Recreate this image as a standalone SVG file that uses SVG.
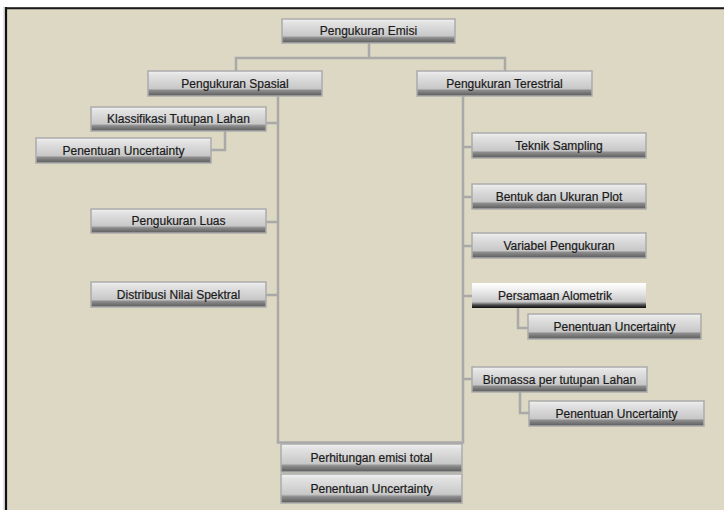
<svg xmlns="http://www.w3.org/2000/svg" width="724" height="510" viewBox="0 0 724 510">
  <defs>
    <linearGradient id="btn" x1="0" y1="0" x2="0" y2="1">
      <stop offset="0" stop-color="#f2f2f2"/>
      <stop offset="0.15" stop-color="#e3e3e3"/>
      <stop offset="0.7" stop-color="#c8c8c8"/>
      <stop offset="0.78" stop-color="#8c8c8c"/>
      <stop offset="1" stop-color="#5a5a5a"/>
    </linearGradient>
    <linearGradient id="btnHi" x1="0" y1="0" x2="0" y2="1">
      <stop offset="0" stop-color="#ffffff"/>
      <stop offset="0.2" stop-color="#f4f4f4"/>
      <stop offset="0.75" stop-color="#c9c9c9"/>
      <stop offset="0.88" stop-color="#4a4a4a"/>
      <stop offset="1" stop-color="#0c0c0c"/>
    </linearGradient>
  </defs>
  <style>
    .box { fill: url(#btn); stroke: #ababab; stroke-width: 1.5; }
    .boxHi { fill: url(#btnHi); }
    .lbl { font-family: "Liberation Sans", Arial, sans-serif; font-size: 12px; fill: #1a1a1a; stroke: #1a1a1a; stroke-width: 0.2; text-anchor: middle; }
    .wire { fill: none; stroke: #a9a9a9; stroke-width: 2.5; }
  </style>

  <!-- page and frame -->
  <rect x="0" y="0" width="724" height="510" fill="#ffffff"/>
  <rect x="5" y="7" width="719" height="503" fill="#ddd8c3"/>
  <line x1="4" y1="7" x2="4" y2="510" stroke="#c8c8c8" stroke-width="1"/>
  <line x1="6" y1="7" x2="6" y2="510" stroke="#111111" stroke-width="2.2"/>
  <line x1="5" y1="8.3" x2="724" y2="8.3" stroke="#1a1a1a" stroke-width="2"/>

  <!-- connectors -->
  <g id="connectors">
    <path class="wire" d="M369 43 V58"/>
    <path class="wire" d="M236 71 V58 H505 V71"/>
    <path class="wire" d="M278 96 V442.5 H463 V96"/>
    <path class="wire" d="M266 123 H278"/>
    <path class="wire" d="M211 150 H225 V131"/>
    <path class="wire" d="M266 222 H278"/>
    <path class="wire" d="M266 295 H278"/>
    <path class="wire" d="M463 147 H472"/>
    <path class="wire" d="M463 197 H472"/>
    <path class="wire" d="M463 246 H472"/>
    <path class="wire" d="M463 296 H472"/>
    <path class="wire" d="M463 379 H472"/>
    <path class="wire" d="M518 308 V328 H528"/>
    <path class="wire" d="M520 392 V413 H529"/>
  </g>

  <!-- nodes -->
  <g id="n-emisi">
    <rect class="box" x="282" y="19" width="173" height="24"/>
    <text class="lbl" x="368.5" y="35">Pengukuran Emisi</text>
  </g>
  <g id="n-spasial">
    <rect class="box" x="148" y="71" width="174" height="25"/>
    <text class="lbl" x="235" y="87.5">Pengukuran Spasial</text>
  </g>
  <g id="n-terestrial">
    <rect class="box" x="417" y="71" width="175" height="25"/>
    <text class="lbl" x="504.5" y="87.5">Pengukuran Terestrial</text>
  </g>
  <g id="n-klasifikasi">
    <rect class="box" x="91" y="107" width="175" height="24"/>
    <text class="lbl" x="178.5" y="123">Klassifikasi Tutupan Lahan</text>
  </g>
  <g id="n-uncert-klas">
    <rect class="box" x="36" y="138" width="175" height="25"/>
    <text class="lbl" x="123.5" y="154.5">Penentuan Uncertainty</text>
  </g>
  <g id="n-luas">
    <rect class="box" x="91" y="209" width="175" height="24"/>
    <text class="lbl" x="178.5" y="225">Pengukuran Luas</text>
  </g>
  <g id="n-spektral">
    <rect class="box" x="91" y="282" width="175" height="25"/>
    <text class="lbl" x="178.5" y="298.5">Distribusi Nilai Spektral</text>
  </g>
  <g id="n-sampling">
    <rect class="box" x="472" y="133" width="174" height="25"/>
    <text class="lbl" x="559" y="149.5">Teknik Sampling</text>
  </g>
  <g id="n-plot">
    <rect class="box" x="472" y="184" width="174" height="25"/>
    <text class="lbl" x="559" y="200.5">Bentuk dan Ukuran Plot</text>
  </g>
  <g id="n-variabel">
    <rect class="box" x="472" y="233" width="174" height="25"/>
    <text class="lbl" x="559" y="249.5">Variabel Pengukuran</text>
  </g>
  <g id="n-alometrik">
    <rect class="boxHi" x="472" y="283" width="174" height="25"/>
    <text class="lbl" x="555" y="299.5">Persamaan Alometrik</text>
  </g>
  <g id="n-uncert-alo">
    <rect class="box" x="528" y="314" width="173" height="25"/>
    <text class="lbl" x="614.5" y="330.5">Penentuan Uncertainty</text>
  </g>
  <g id="n-biomassa">
    <rect class="box" x="472" y="367" width="175" height="25"/>
    <text class="lbl" x="559.5" y="383.5">Biomassa per tutupan Lahan</text>
  </g>
  <g id="n-uncert-bio">
    <rect class="box" x="529" y="401" width="175" height="25"/>
    <text class="lbl" x="616.5" y="417.5">Penentuan Uncertainty</text>
  </g>
  <g id="n-total">
    <rect class="box" x="281" y="444" width="181" height="28"/>
    <text class="lbl" x="371.5" y="462">Perhitungan emisi total</text>
  </g>
  <g id="n-uncert-total">
    <rect class="box" x="281" y="474" width="181" height="29"/>
    <text class="lbl" x="371.5" y="492.5">Penentuan Uncertainty</text>
  </g>
</svg>
